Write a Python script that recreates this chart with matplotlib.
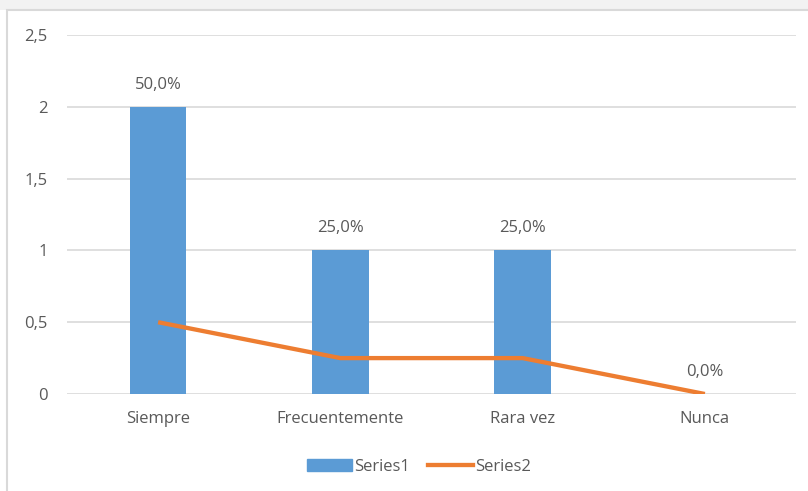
import matplotlib.pyplot as plt
from matplotlib.patches import Rectangle
from matplotlib.lines import Line2D

categorias = ['Siempre', 'Frecuentemente', 'Rara vez', 'Nunca']
series1 = [2, 1, 1, 0]
series2 = [0.5, 0.25, 0.25, 0]
etiquetas = ['50,0%', '25,0%', '25,0%', '0,0%']
yticks = [0, 0.5, 1, 1.5, 2, 2.5]
yticklabels = ['0', '0,5', '1', '1,5', '2', '2,5']

azul = '#5B9BD5'
naranja = '#ED7D31'
gris_texto = '#595959'

plt.rcParams['font.family'] = ['Open Sans', 'DejaVu Sans']
fs = 12

fig = plt.figure(figsize=(8.08, 4.91), dpi=100)
fig.patch.set_facecolor('white')

# banda superior y marco del area del grafico
fig.patches.append(Rectangle((0, 1 - 10 / 491), 1, 10 / 491, transform=fig.transFigure,
                             facecolor='#F2F2F2', edgecolor='none', zorder=-2))
fig.patches.append(Rectangle((7 / 808, -0.1), 1.2, 1.1 - 10 / 491, transform=fig.transFigure,
                             facecolor='white', edgecolor='#D9D9D9', lw=1.5, zorder=-1))

ax = fig.add_axes([67 / 808, 1 - 394 / 491, 729 / 808, 359 / 491])
ax.set_facecolor('none')

x = range(len(categorias))
ax.bar(x, series1, width=0.31, color=azul, zorder=2, label='Series1')
ax.plot(x, series2, color=naranja, lw=3.1, zorder=3, label='Series2',
        solid_capstyle='butt')

for xi, v, t in zip(x, series1, etiquetas):
    ax.annotate(t, (xi, v), xytext=(0, 16), textcoords='offset points',
                ha='center', va='center', fontsize=fs, color=gris_texto)

ax.set_xlim(-0.5, 3.5)
ax.set_ylim(0, 2.5)
ax.set_yticks(yticks)
ax.set_yticklabels(yticklabels)
ax.set_xticks(list(x))
ax.set_xticklabels(categorias)
ax.grid(axis='y', color='#D9D9D9', lw=1.2, zorder=0)
ax.set_axisbelow(True)
ax.tick_params(length=0, labelsize=fs, colors=gris_texto)
ax.tick_params(axis='y', pad=14)
ax.tick_params(axis='x', pad=12.5)
for s in ax.spines.values():
    s.set_visible(False)

handles = [Rectangle((0, 0), 1, 1, color=azul),
           Line2D([0], [0], color=naranja, lw=3.1)]
fig.legend(handles, ['Series1', 'Series2'], loc='center', bbox_to_anchor=(419 / 808, 1 - 467 / 491),
           ncol=2, frameon=False, fontsize=fs, handlelength=2.7, handletextpad=0.1,
           columnspacing=1.1, labelcolor=gris_texto)

fig.savefig('out.png', dpi=100)
